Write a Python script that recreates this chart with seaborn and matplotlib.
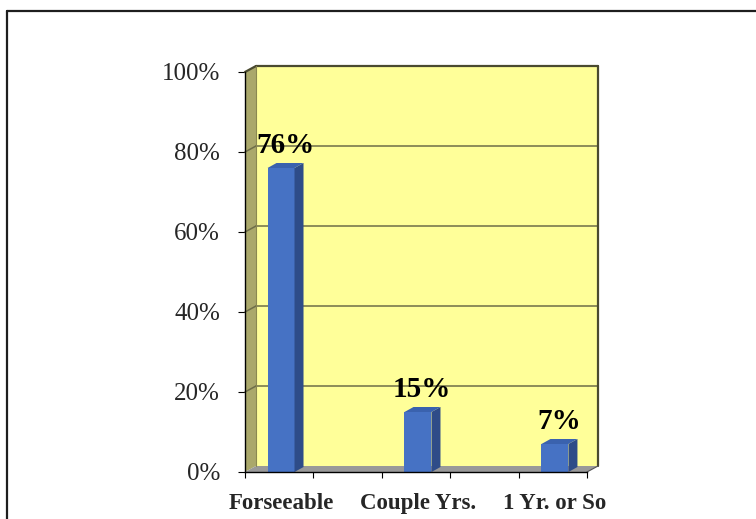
import matplotlib
matplotlib.use("Agg")
import matplotlib.pyplot as plt
import seaborn as sns
import pandas as pd
from matplotlib.patches import Polygon, Rectangle
from matplotlib.lines import Line2D

# Survey data
categories = ["Forseeable", "Couple Yrs.", "1 Yr. or So"]
shares = [76, 15, 7]
y_ticks = [0, 20, 40, 60, 80, 100]
y_tick_labels = ["0%", "20%", "40%", "60%", "80%", "100%"]

sns.set_theme(style="white")
plt.rcParams["font.family"] = ["Liberation Serif", "DejaVu Serif"]

W, H, DPI = 756, 519, 100
fig = plt.figure(figsize=(W / DPI, H / DPI), dpi=DPI)
fig.patch.set_facecolor("white")

# front plane of the plot box, in pixels
fx0, fx1 = 245, 587
fy0, fy1 = 472, 72
ax = fig.add_axes([fx0 / W, 1 - fy0 / H, (fx1 - fx0) / W, (fy0 - fy1) / H])
ax.patch.set_visible(False)

df = pd.DataFrame({"period": categories, "share": shares})
sns.barplot(data=df, x="period", y="share", color="#4672C4", width=0.197,
            saturation=1, ax=ax, zorder=4, linewidth=0)
bars = list(ax.patches)

xlo, xhi = -0.263, 2.234
ax.set_xlim(xlo, xhi)
ax.set_ylim(0, 100)

# depth of walls (axes fraction) and bars (data units)
px_x = (fx1 - fx0) / (xhi - xlo)   # pixels per x unit
px_y = (fy0 - fy1) / 100.0          # pixels per y unit
wdx, wdy = 11 / (fx1 - fx0), 6 / (fy0 - fy1)
bdx, bdy = 9 / px_x, 5 / px_y

wall_yellow = "#FFFF99"
side_olive = "#AAA86B"
floor_grey = "#999999"
grid_col = "#6E6E48"
edge_col = "#4A4A30"

ta = ax.transAxes
ax.add_patch(Rectangle((wdx, wdy), 1, 1, transform=ta, facecolor=wall_yellow,
                       edgecolor="none", clip_on=False, zorder=0))
ax.add_patch(Polygon([(0, 0), (0, 1), (wdx, 1 + wdy), (wdx, wdy)], closed=True,
                     transform=ta, facecolor=side_olive, edgecolor="none",
                     clip_on=False, zorder=0))
ax.add_patch(Polygon([(0, 0), (1, 0), (1 + wdx, wdy), (wdx, wdy)], closed=True,
                     transform=ta, facecolor=floor_grey, edgecolor="none",
                     clip_on=False, zorder=1))

# gridlines on back wall and side wall
for t in y_ticks[1:]:
    f = t / 100.0
    lw = 1.6 if t == 100 else 1.1
    col = edge_col if t == 100 else grid_col
    ax.add_line(Line2D([wdx, 1 + wdx], [f + wdy, f + wdy], transform=ta,
                       color=col, lw=lw, clip_on=False, zorder=2))
    ax.add_line(Line2D([0, wdx], [f, f + wdy], transform=ta,
                       color=col, lw=lw, clip_on=False, zorder=2))
# wall outline
ax.add_line(Line2D([1 + wdx, 1 + wdx], [wdy, 1 + wdy], transform=ta,
                   color=edge_col, lw=1.6, clip_on=False, zorder=2))
ax.add_line(Line2D([wdx, wdx], [wdy, 1 + wdy], transform=ta,
                   color="#8A8850", lw=0.8, clip_on=False, zorder=2))
ax.add_line(Line2D([1, 1 + wdx], [0, wdy], transform=ta,
                   color="#555555", lw=0.8, clip_on=False, zorder=2))

# 3-D faces of the bars
for b in bars:
    x0 = b.get_x()
    x1 = x0 + b.get_width()
    v = b.get_height()
    ax.add_patch(Polygon([(x1, 0), (x1, v), (x1 + bdx, v + bdy), (x1 + bdx, bdy)],
                         closed=True, facecolor="#2E4C88", edgecolor="none",
                         clip_on=False, zorder=4))
    ax.add_patch(Polygon([(x0, v), (x1, v), (x1 + bdx, v + bdy), (x0 + bdx, v + bdy)],
                         closed=True, facecolor="#3A62AE", edgecolor="none",
                         clip_on=False, zorder=4))
    ax.annotate(f"{v:.0f}%", (x0 + b.get_width() / 2, v + bdy),
                xytext=(3, 7.5), textcoords="offset points",
                ha="center", va="baseline", fontsize=21, fontweight="bold",
                color="black", zorder=6, annotation_clip=False)

# axes styling
for s in ["top", "right"]:
    ax.spines[s].set_visible(False)
for s in ["left", "bottom"]:
    ax.spines[s].set_color("black")
    ax.spines[s].set_linewidth(1.0)
    ax.spines[s].set_zorder(5)

ax.set_yticks(y_ticks)
ax.set_yticklabels(y_tick_labels, fontsize=18)
ax.set_xticks(range(len(categories)))
ax.set_xticklabels(categories, fontsize=16.5, fontweight="bold")
ax.set_xticks([xlo + k * (xhi - xlo) / 5 for k in range(6)], minor=True)
ax.tick_params(axis="y", which="major", left=True, direction="out", length=5,
               width=0.8, color="black", pad=13)
ax.tick_params(axis="x", which="major", bottom=True, length=0, pad=15)
ax.tick_params(axis="x", which="minor", bottom=True, direction="out", length=4,
               width=0.8, color="black")
ax.set_xlabel("")
ax.set_ylabel("")
ax.grid(False)

# outer frame
fig.add_artist(Line2D([7 / W, 1], [1 - 11 / H, 1 - 11 / H], transform=fig.transFigure,
                      color="#1E1E1E", lw=1.6))
fig.add_artist(Line2D([7 / W, 7 / W], [0, 1 - 11 / H], transform=fig.transFigure,
                      color="#1E1E1E", lw=1.6))

fig.savefig("out.png", dpi=DPI, facecolor="white")
